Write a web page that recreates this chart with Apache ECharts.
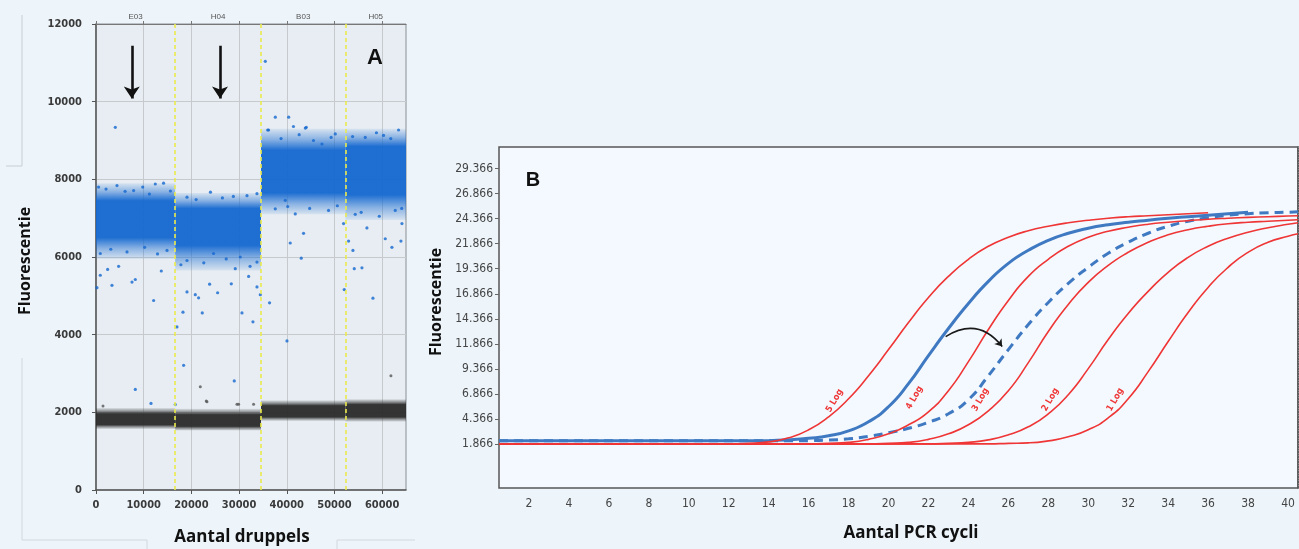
<!DOCTYPE html>
<html><head><meta charset="utf-8">
<script src="https://cdn.jsdelivr.net/npm/echarts@6/dist/echarts.min.js"></script>
<style>html,body{margin:0;padding:0;background:#edf5fb;}#c{width:1299px;height:549px;}</style>
</head><body><div id="c"></div>
<script>
// ---------- Panel A: droplet digital PCR ----------
const wellNames = ['E03', 'H04', 'B03', 'H05'];
const wellStart = [0, 16600, 34600, 52300];
const wellEnd = [16600, 34600, 52300, 65000];
// positive (blue) droplet cluster per well: sparse low, dense low, dense high, sparse high
const blueSparseLo = [5950, 5650, 7100, 6950];
const blueDenseLo = [6500, 6300, 7650, 7600];
const blueDenseHi = [7450, 7250, 8750, 8850];
const blueSparseHi = [7900, 7650, 9300, 9300];
// negative (black) droplet cluster per well
const blackSparseLo = [1570, 1530, 1780, 1760];
const blackDenseLo = [1680, 1640, 1880, 1880];
const blackDenseHi = [1960, 1940, 2170, 2200];
const blackSparseHi = [2110, 2090, 2310, 2340];
// individual droplets
const blueDroplets = [
  [4050, 9340], [35500, 11040], [37600, 9600], [40400, 9600], [41400, 9360], [44100, 9340], [36000, 9270],
  [200, 5210], [900, 5530], [3350, 5270], [2440, 5680], [4740, 5760], [7550, 5355], [8240, 5420],
  [12080, 4880], [13690, 5640], [18240, 4580], [16980, 4200], [18370, 3210], [19080, 5100], [20820, 5030],
  [21510, 4950], [22280, 4560], [23820, 5300], [25500, 5080], [28370, 5310], [29200, 5700], [30610, 4560],
  [32000, 5500], [32910, 4330], [33750, 5230], [34450, 5030], [36390, 4820], [40040, 3840], [40730, 6360],
  [43040, 5970], [43520, 6610], [52050, 5160], [52960, 6410], [53880, 6170], [54150, 5700], [55760, 5720],
  [58070, 4940], [60650, 6470], [62050, 6250], [63940, 6410], [64150, 6860], [56810, 6750], [51910, 6860],
  [8240, 2590], [11530, 2230], [16620, 2200], [28990, 2810],
  [540, 7800], [4400, 7840], [7890, 7710], [12430, 7880], [14170, 7900], [19080, 7540], [24000, 7670],
  [31660, 7580], [33750, 7630], [36190, 9270], [43880, 9320], [50170, 9170], [56460, 9080], [60290, 9130],
  [63440, 9270], [47380, 8910], [37590, 7240], [41780, 7110], [48760, 7200], [54360, 7100], [62750, 7200],
  [39690, 7460], [900, 6090], [6500, 6130], [14890, 6170], [19080, 5910], [24650, 6090], [30250, 6000], [33750, 5870],
  [2100, 7750], [6100, 7690], [9800, 7800], [11200, 7620], [15600, 7700], [21000, 7480], [26500, 7520], [28800, 7560],
  [3100, 6200], [10200, 6250], [12900, 6080], [17800, 5800], [22600, 5850], [27300, 5950], [32300, 5760],
  [38800, 9050], [42600, 9150], [45600, 9000], [49300, 9080], [53800, 9100], [58800, 9200], [61800, 9050],
  [40200, 7300], [44800, 7250], [50600, 7320], [55600, 7150], [59400, 7050], [64100, 7250]
];
const blackDroplets = [
  [1470, 2160], [21870, 2660], [23120, 2290], [29560, 2210], [33040, 2210], [61840, 2940], [23270, 2270], [29900, 2210]
];
const arrowX = [7500, 26000];
const arrowFrom = 11440;
const arrowTo = 10080;
const dropTicks = [0, 10000, 20000, 30000, 40000, 50000, 60000];

// ---------- Panel B: qPCR amplification curves ----------
const cycles = [0.5, 1, 2, 3, 4, 5, 6, 7, 8, 9, 10, 11, 12, 13, 14, 15, 16, 17, 18, 19, 20, 21, 22, 23, 24, 25, 26, 27, 28, 29, 30, 31, 32, 33, 34, 35, 36, 37, 38, 39, 40, 40.5];
const log5 = [1.9, 1.9, 1.9, 1.9, 1.9, 1.9, 1.9, 1.9, 1.9, 1.9, 1.9, 1.9, 1.9, 1.95, 2.1, 2.5, 3.3, 4.6, 6.4, 8.7, 11.3, 14.0, 16.5, 18.6, 20.3, 21.6, 22.5, 23.15, 23.6, 23.95, 24.2, 24.4, 24.55, 24.65, 24.75, 24.85, 24.95, null, null, null, null, null];
const blueSolid = [2.2, 2.2, 2.2, 2.2, 2.2, 2.2, 2.2, 2.2, 2.2, 2.2, 2.2, 2.2, 2.2, 2.2, 2.22, 2.3, 2.45, 2.7, 3.2, 4.1, 5.6, 7.9, 10.7, 13.4, 15.9, 18.1, 19.9, 21.2, 22.2, 22.9, 23.4, 23.75, 24.0, 24.2, 24.4, 24.55, 24.7, 24.85, 25.0, null, null, null];
const log4 = [1.9, 1.9, 1.9, 1.9, 1.9, 1.9, 1.9, 1.9, 1.9, 1.9, 1.9, 1.9, 1.9, 1.9, 1.9, 1.9, 1.9, 1.95, 2.05, 2.35, 2.9, 3.8, 5.1, 7.2, 10.1, 13.3, 16.2, 18.6, 20.3, 21.6, 22.5, 23.1, 23.5, 23.8, 24.0, 24.15, 24.3, 24.4, 24.48, 24.55, 24.62, 24.65];
const blueDashed = [2.2, 2.2, 2.2, 2.2, 2.2, 2.2, 2.2, 2.2, 2.2, 2.2, 2.2, 2.2, 2.2, 2.2, 2.2, 2.2, 2.22, 2.28, 2.4, 2.65, 3.0, 3.45, 4.05, 4.9, 6.3, 8.7, 11.3, 13.8, 16.0, 17.9, 19.5, 20.9, 22.0, 22.9, 23.6, 24.1, 24.45, 24.7, 24.85, 24.95, 25.0, 25.05];
const log3 = [1.9, 1.9, 1.9, 1.9, 1.9, 1.9, 1.9, 1.9, 1.9, 1.9, 1.9, 1.9, 1.9, 1.9, 1.9, 1.9, 1.9, 1.9, 1.9, 1.9, 1.95, 2.05, 2.35, 2.9, 3.8, 5.2, 7.2, 10.0, 13.1, 15.8, 18.0, 19.7, 21.0, 22.0, 22.75, 23.25, 23.6, 23.85, 24.0, 24.1, 24.2, 24.25];
const log2 = [1.9, 1.9, 1.9, 1.9, 1.9, 1.9, 1.9, 1.9, 1.9, 1.9, 1.9, 1.9, 1.9, 1.9, 1.9, 1.9, 1.9, 1.9, 1.9, 1.9, 1.9, 1.9, 1.9, 1.95, 2.05, 2.3, 2.8, 3.6, 4.9, 6.8, 9.4, 12.3, 14.9, 17.1, 19.0, 20.5, 21.6, 22.4, 23.0, 23.45, 23.8, 23.95];
const log1 = [1.9, 1.9, 1.9, 1.9, 1.9, 1.9, 1.9, 1.9, 1.9, 1.9, 1.9, 1.9, 1.9, 1.9, 1.9, 1.9, 1.9, 1.9, 1.9, 1.9, 1.9, 1.9, 1.9, 1.9, 1.9, 1.9, 1.95, 2.0, 2.2, 2.6, 3.3, 4.5, 6.4, 9.1, 12.1, 15.0, 17.5, 19.5, 21.0, 22.0, 22.6, 22.85];
const logNames = ['5 Log', '4 Log', '3 Log', '2 Log', '1 Log'];
const logLabelAt = [[17.3, 6.2], [21.3, 6.5], [24.6, 6.3], [28.1, 6.3], [31.35, 6.3]];
const cycleTicks = [2, 4, 6, 8, 10, 12, 14, 16, 18, 20, 22, 24, 26, 28, 30, 32, 34, 36, 38, 40];
const fluorTicks = [1.866, 4.366, 6.866, 9.366, 11.866, 14.366, 16.866, 19.366, 21.866, 24.366, 26.866, 29.366];
const shiftFrom = [22.86, 12.6];
const shiftTo = [25.69, 11.6];

// ---------- build ----------
const chart = echarts.init(document.getElementById('c'), null, {renderer: 'canvas'});
const pair = arr => cycles.map((c, i) => [c, arr[i]]);
const SMOOTH = 0.55;

function bandItem(params, api) {
  const x0 = api.value(0), x1 = api.value(1);
  const sLo = api.value(2), dLo = api.value(3), dHi = api.value(4), sHi = api.value(5);
  const tl = api.coord([x0, sHi]), br = api.coord([x1, sLo]);
  const h = br[1] - tl[1];
  const t1 = (api.coord([x0, dHi])[1] - tl[1]) / h;
  const t2 = (api.coord([x0, dLo])[1] - tl[1]) / h;
  const pos = params.seriesName === 'pos';
  const c = pos ? [20, 104, 208] : [42, 42, 42];
  const rgba = a => 'rgba(' + c[0] + ',' + c[1] + ',' + c[2] + ',' + a + ')';
  return {
    type: 'rect',
    shape: {x: tl[0], y: tl[1], width: br[0] - tl[0], height: h},
    style: {fill: new echarts.graphic.LinearGradient(0, 0, 0, 1, [
      {offset: 0, color: rgba(0.08)}, {offset: t1 * 0.5, color: rgba(0.45)}, {offset: t1, color: rgba(0.95)},
      {offset: t2, color: rgba(0.95)}, {offset: (1 + t2) / 2, color: rgba(0.45)}, {offset: 1, color: rgba(0.08)}])}
  };
}
const posBands = wellStart.map((s, i) => [s, wellEnd[i], blueSparseLo[i], blueDenseLo[i], blueDenseHi[i], blueSparseHi[i]]);
const negBands = wellStart.map((s, i) => [s, wellEnd[i], blackSparseLo[i], blackDenseLo[i], blackDenseHi[i], blackSparseHi[i]]);
const wellCenters = wellStart.map((s, i) => (s + wellEnd[i]) / 2);

const tickFont = {fontFamily: 'DejaVu Sans Condensed, Liberation Sans, sans-serif', fontSize: 12, color: '#444'};
const red = '#ef3535', blue = '#3f79c1';
const redLine = (name, arr, idx) => ({
  name: name, type: 'line', xAxisIndex: 2, yAxisIndex: 1, data: pair(arr), smooth: SMOOTH, showSymbol: false,
  lineStyle: {color: red, width: 1.6}, itemStyle: {color: red}, z: 4,
  markPoint: {symbol: 'circle', symbolSize: 0, silent: true,
    label: {show: true, formatter: name, rotate: 60, color: red, fontSize: 9, fontWeight: 'bold', fontFamily: 'DejaVu Sans Condensed, sans-serif', position: 'inside'},
    data: [{coord: logLabelAt[idx]}]}
});

const option = {
  backgroundColor: '#edf5fb',
  animation: false,
  grid: [
    {left: 96, top: 24, width: 310, height: 466, show: true, backgroundColor: '#e7edf2', borderColor: '#8a8f94', borderWidth: 1, containLabel: false, outerBoundsMode: 'none'},
    {left: 499, top: 147, width: 799, height: 341, show: true, backgroundColor: '#f3f9fe', borderColor: '#555', borderWidth: 1.5, containLabel: false, outerBoundsMode: 'none'}
  ],
  xAxis: [
    {gridIndex: 0, type: 'value', min: 0, max: 65000, position: 'bottom',
     axisLine: {show: true, lineStyle: {color: '#555', width: 1.5}},
     axisTick: {show: true, length: 4, lineStyle: {color: '#555'}, customValues: dropTicks},
     axisLabel: {margin: 10, fontSize: 11, fontWeight: 'bold', color: '#3a3a3a', fontFamily: 'DejaVu Sans Condensed, sans-serif',
       customValues: dropTicks, formatter: v => String(v), hideOverlap: false},
     splitLine: {show: true, lineStyle: {color: '#c6cacd', width: 1}}},
    {gridIndex: 0, type: 'value', min: 0, max: 65000, position: 'top',
     axisLine: {show: true, lineStyle: {color: '#777'}},
     axisTick: {show: true, length: 3, inside: false, lineStyle: {color: '#777'}, customValues: dropTicks},
     axisLabel: {margin: 3, fontSize: 8, color: '#555', customValues: wellCenters,
       formatter: v => wellNames[wellCenters.indexOf(v)] || ''},
     splitLine: {show: false}},
    {gridIndex: 1, type: 'value', min: 0.5, max: 40.5,
     axisLine: {show: false}, axisTick: {show: false, customValues: cycleTicks},
     axisLabel: Object.assign({margin: 10, customValues: cycleTicks}, tickFont),
     splitLine: {show: false}}
  ],
  yAxis: [
    {gridIndex: 0, type: 'value', min: 0, max: 12000, interval: 2000,
     axisLine: {show: true, lineStyle: {color: '#555', width: 1.5}}, axisTick: {show: true, length: 4, lineStyle: {color: '#555'}},
     axisLabel: {margin: 14, fontSize: 11, fontWeight: 'bold', color: '#3a3a3a', fontFamily: 'DejaVu Sans Condensed, sans-serif', formatter: v => String(v)},
     splitLine: {show: true, lineStyle: {color: '#c6cacd', width: 1}}},
    {gridIndex: 1, type: 'value', min: -2.5, max: 31.5,
     axisLine: {show: false}, axisTick: {show: true, length: 4, lineStyle: {color: '#666'}, customValues: fluorTicks},
     axisLabel: Object.assign({margin: 6, customValues: fluorTicks, formatter: v => v.toFixed(3)}, tickFont),
     splitLine: {show: false}},
    {gridIndex: 1, type: 'value', min: -2.5, max: 31.5, interval: 0.25,
     axisLine: {show: true, lineStyle: {color: '#555', width: 1.5}},
     axisTick: {show: true, length: 2, lineStyle: {color: '#888'}}, axisLabel: {show: false}, splitLine: {show: false}}
  ],
  series: [
    {name: 'pos', type: 'custom', xAxisIndex: 0, yAxisIndex: 0, renderItem: bandItem, data: posBands, encode: {x: [0, 1], y: [2, 5]}, z: 2, silent: true},
    {name: 'neg', type: 'custom', xAxisIndex: 0, yAxisIndex: 0, renderItem: bandItem, data: negBands, encode: {x: [0, 1], y: [2, 5]}, z: 2, silent: true},
    {name: 'posDrops', type: 'scatter', xAxisIndex: 0, yAxisIndex: 0, data: blueDroplets, symbolSize: 3.2, itemStyle: {color: '#1468d0'}, z: 3,
     markLine: {silent: true, symbol: 'none', label: {show: false}, lineStyle: {color: '#eaea4c', type: [4, 3], width: 1.6},
       data: wellStart.slice(1).map(x => ({xAxis: x}))}},
    {name: 'negDrops', type: 'scatter', xAxisIndex: 0, yAxisIndex: 0, data: blackDroplets, symbolSize: 3, itemStyle: {color: '#555'}, z: 3},
    {name: 'wellArrows', type: 'lines', coordinateSystem: 'cartesian2d', xAxisIndex: 0, yAxisIndex: 0,
     symbol: ['none', 'arrow'], symbolSize: [0, 12], lineStyle: {color: '#111', width: 2.6, opacity: 1}, z: 5,
     data: arrowX.map(x => ({coords: [[x, arrowFrom], [x, arrowTo]]}))},
    {name: 'Blauw', type: 'line', xAxisIndex: 2, yAxisIndex: 1, data: pair(blueSolid), smooth: SMOOTH, showSymbol: false,
     lineStyle: {color: blue, width: 3}, z: 3},
    {name: 'Blauw na', type: 'line', xAxisIndex: 2, yAxisIndex: 1, data: pair(blueDashed), smooth: SMOOTH, showSymbol: false,
     lineStyle: {color: blue, width: 3, type: [9, 6]}, z: 3},
    redLine(logNames[0], log5, 0),
    redLine(logNames[1], log4, 1),
    redLine(logNames[2], log3, 2),
    redLine(logNames[3], log2, 3),
    redLine(logNames[4], log1, 4),
    {name: 'shift', type: 'lines', coordinateSystem: 'cartesian2d', xAxisIndex: 2, yAxisIndex: 1,
     symbol: ['none', 'arrow'], symbolSize: [0, 7], lineStyle: {color: '#1a1a1a', width: 1.6, curveness: 0.45, opacity: 1}, z: 6,
     data: [{coords: [shiftFrom, shiftTo]}]}
  ],
  graphic: [
    {type: 'text', x: 25, y: 261, rotation: Math.PI / 2, style: {text: 'Fluorescentie', font: 'bold 16px "Open Sans", sans-serif', fill: '#111', align: 'center', verticalAlign: 'middle'}},
    {type: 'text', x: 242, y: 537, style: {text: 'Aantal druppels', font: 'bold 17px "Open Sans", sans-serif', fill: '#111', align: 'center', verticalAlign: 'middle'}},
    {type: 'text', x: 436, y: 302, rotation: Math.PI / 2, style: {text: 'Fluorescentie', font: 'bold 16px "Open Sans", sans-serif', fill: '#111', align: 'center', verticalAlign: 'middle'}},
    {type: 'text', x: 911, y: 533, style: {text: 'Aantal PCR cycli', font: 'bold 17px "Open Sans", sans-serif', fill: '#111', align: 'center', verticalAlign: 'middle'}},
    {type: 'text', x: 375, y: 58, style: {text: 'A', font: 'bold 22px "Liberation Sans", sans-serif', fill: '#111', align: 'center', verticalAlign: 'middle'}},
    {type: 'text', x: 533, y: 180, style: {text: 'B', font: 'bold 20px "Liberation Sans", sans-serif', fill: '#111', align: 'center', verticalAlign: 'middle'}},
    {type: 'polyline', shape: {points: [[22, 15], [22, 166], [6, 166]]}, style: {stroke: '#c9ced3', lineWidth: 1, fill: null}},
    {type: 'polyline', shape: {points: [[22, 358], [22, 540], [147, 540], [147, 549]]}, style: {stroke: '#d3d8dc', lineWidth: 1, fill: null}},
    {type: 'polyline', shape: {points: [[337, 549], [337, 540], [415, 540]]}, style: {stroke: '#d3d8dc', lineWidth: 1, fill: null}}
  ]
};
chart.setOption(option);
</script></body></html>
